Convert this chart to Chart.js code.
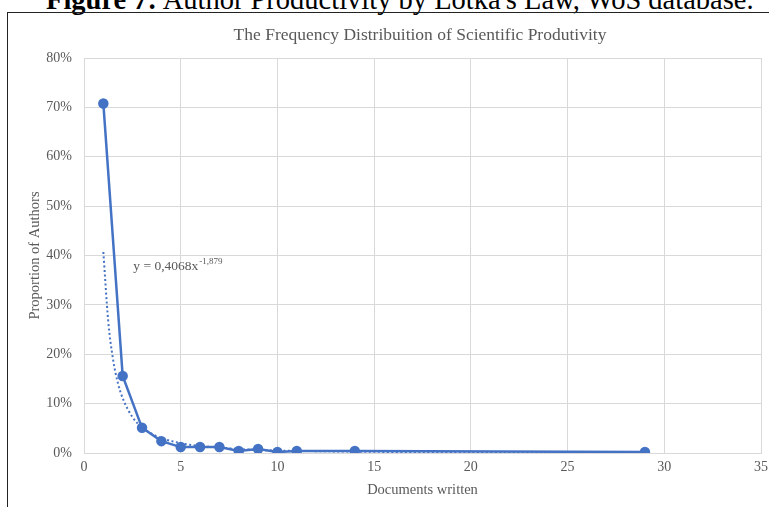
<!DOCTYPE html>
<html>
<head>
<meta charset="utf-8">
<script src="https://cdn.jsdelivr.net/npm/chart.js@4/dist/chart.umd.min.js"></script>
<style>
  html, body { margin: 0; padding: 0; background: #fff; overflow: hidden; width: 769px; height: 507px; }
  #caption { position: absolute; left: 46px; top: -14px; font-family: "Liberation Serif", serif; font-size: 28.5px; line-height: 28.5px; white-space: nowrap; color: #000; }
  #frame { position: absolute; left: 7px; top: 12px; width: 900px; height: 600px; border: 1.5px solid #222; }
  #myChart { position: absolute; left: 0; top: 0; }
</style>
</head>
<body>
<div id="caption"><b>Figure 7:</b> Author Productivity by Lotka's Law, WoS database.</div>
<div id="frame"></div>
<canvas id="myChart" width="840" height="507"></canvas>
<script>
// values (proportions of authors)
const docsWritten = [1, 2, 3, 4, 5, 6, 7, 8, 9, 10, 11, 14, 29];
const proportion = [0.708, 0.156, 0.051, 0.024, 0.012, 0.012, 0.012, 0.004, 0.008, 0.002, 0.004, 0.004, 0.002];

// dotted power trend line as it appears in the picture
const trendX = [1, 1.25, 1.5, 1.75, 2, 2.5, 3, 3.5, 4, 5, 6, 7, 8, 10, 12, 15, 20, 25, 29];
const trendY = [0.407, 0.268, 0.190, 0.142, 0.111, 0.073, 0.052, 0.039, 0.030, 0.020, 0.014, 0.011, 0.008, 0.005, 0.0037, 0.0024, 0.0014, 0.0010, 0.0007];

const xTicks = [0, 5, 10, 15, 20, 25, 30, 35];
const yTicks = [0, 0.1, 0.2, 0.3, 0.4, 0.5, 0.6, 0.7, 0.8];

const chartTitle = 'The Frequency Distribuition of Scientific Produtivity';
const xTitle = 'Documents written';
const yTitle = 'Proportion of Authors';
const equation = { text: 'y = 0,4068x', sup: '-1,879', x: 2.55, y: 0.38 };

const blue = '#4472C4';
const grey = '#595959';
const gridGrey = '#d9d9d9';
const serif = '"Liberation Serif", "Times New Roman", serif';

// chart title centred on the whole chart box, plus the trend equation
const labels = {
    id: 'labels',
    afterDatasetsDraw(chart) {
        const ctx = chart.ctx;
        ctx.save();
        ctx.fillStyle = grey;
        ctx.textAlign = 'center';
        ctx.textBaseline = 'middle';
        ctx.font = '17.5px ' + serif;
        ctx.fillText(chartTitle, chart.width / 2, 35);

        const px = chart.scales.x.getPixelForValue(equation.x);
        const py = chart.scales.y.getPixelForValue(equation.y);
        ctx.textAlign = 'left';
        ctx.textBaseline = 'alphabetic';
        ctx.font = '13.5px ' + serif;
        ctx.fillText(equation.text, px, py + 5);
        const w = ctx.measureText(equation.text).width;
        ctx.font = '9px ' + serif;
        ctx.fillText(equation.sup, px + w + 1, py - 1);
        ctx.restore();
    }
};

const data1 = {
    datasets: [
        {
            label: 'Proportion',
            data: docsWritten.map((d, i) => ({ x: d, y: proportion[i] })),
            borderColor: blue,
            backgroundColor: blue,
            borderWidth: 2.5,
            pointRadius: 4,
            pointHoverRadius: 4,
            showLine: true,
            order: 2
        },
        {
            label: 'Power trend',
            data: trendX.map((d, i) => ({ x: d, y: trendY[i] })),
            borderColor: blue,
            borderWidth: 2,
            borderDash: [2, 2.5],
            pointRadius: 0,
            showLine: true,
            cubicInterpolationMode: 'monotone',
            order: 1
        }
    ]
};

const config = {
    type: 'scatter',
    data: data1,
    options: {
        responsive: false,
        animation: false,
        layout: { padding: { left: 0, right: 79, top: 58, bottom: 0 } },
        plugins: {
            legend: { display: false },
            tooltip: { enabled: false },
            title: { display: false }
        },
        scales: {
            x: {
                type: 'linear',
                min: 0,
                max: 35,
                afterBuildTicks: scale => { scale.ticks = xTicks.map(v => ({ value: v })); },
                afterFit: scale => { scale.height = 54; },
                grid: { color: gridGrey, lineWidth: 1, drawTicks: false },
                border: { color: gridGrey },
                ticks: { color: grey, padding: 6, font: { family: serif, size: 14 } },
                title: { display: true, text: xTitle, color: grey, padding: { top: 8, bottom: 8 }, font: { family: serif, size: 14.5 } }
            },
            y: {
                min: 0,
                max: 0.8,
                afterBuildTicks: scale => { scale.ticks = yTicks.map(v => ({ value: v })); },
                afterFit: scale => { scale.width = 84; },
                grid: { color: gridGrey, lineWidth: 1, drawTicks: false },
                border: { color: gridGrey },
                ticks: {
                    color: grey,
                    padding: 12,
                    font: { family: serif, size: 14 },
                    callback: v => Math.round(v * 100) + '%'
                },
                title: { display: true, text: yTitle, color: grey, padding: { top: 26, bottom: 0 }, font: { family: serif, size: 14.5 } }
            }
        }
    },
    plugins: [labels]
};

/*eslint-disable no-unused-vars*/
const graphe1 = new Chart(document.getElementById('myChart'), config);
</script>
</body>
</html>
